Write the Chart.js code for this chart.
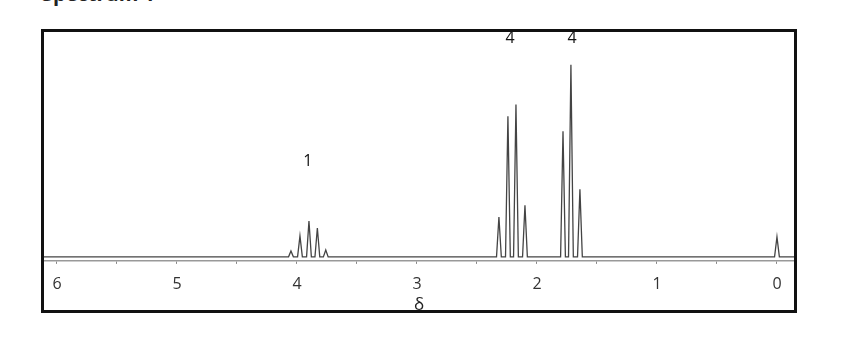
<!DOCTYPE html>
<html>
<head>
<meta charset="utf-8">
<script src="https://cdn.jsdelivr.net/npm/chart.js@4"></script>
<style>
   body { margin: 0; background: #fff; }
   #title {
      position: absolute; left: 42px; top: -20px;
      font: bold 20px "Open Sans", sans-serif; color: #222;
   }
   #box {
      position: absolute; left: 41px; top: 29px;
      width: 750px; height: 278px;
      border: 3px solid #111;
   }
</style>
</head>
<body>
<div id="title">Spectrum 1</div>
<div id="box"><canvas id="nmrChart"></canvas></div>
<script>
/*******************************************************
 * /                 Spectrum 1 peak list              * /
 ********************************************************/
// chemical shift (ppm) and relative height (tallest = 100)
const peakShift = [4.05, 3.975, 3.90, 3.83, 3.76,
                   2.317, 2.242, 2.175, 2.10,
                   1.783, 1.717, 1.642,
                   0.0];
const peakHeight = [3.1, 10.9, 18.7, 15.0, 3.6,
                    20.7, 73.1, 79.3, 26.9,
                    65.3, 100, 35.2,
                    10.4];

// integration labels over the multiplets
const integralText = ["1", "4", "4"];
const integralShift = [3.91, 2.225, 1.708];

const shiftMin = -0.142;
const shiftMax = 6.108;

/*******************************************************
 * /          Build the trace from the peak list       * /
 ********************************************************/
const halfWidth = 0.02;
let trace = [{ x: shiftMin, y: 0 }];
let order = peakShift.map(function (s, i) { return i; })
   .sort(function (a, b) { return peakShift[a] - peakShift[b]; });
for (i = 0; i < order.length; i++) {
   let s = peakShift[order[i]];
   trace.push({ x: s - halfWidth, y: 0 });
   trace.push({ x: s, y: peakHeight[order[i]] });
   trace.push({ x: s + halfWidth, y: 0 });
}
trace.push({ x: shiftMax, y: 0 });

// draws the "1", "4", "4" above the multiplets
const integralLabels = {
   id: "integralLabels",
   afterDatasetsDraw(chart, args, opts) {
      const ctx = chart.ctx;
      ctx.save();
      ctx.font = '16px "Open Sans", sans-serif';
      ctx.fillStyle = "#111";
      ctx.textAlign = "center";
      ctx.textBaseline = "middle";
      for (i = 0; i < integralText.length; i++) {
         ctx.fillText(integralText[i],
            chart.scales.x.getPixelForValue(integralShift[i]),
            chart.scales.y.getPixelForValue(opts.levels[i]));
      }
      ctx.restore();
   },
};

const nmrctx = document.getElementById("nmrChart").getContext("2d");
const nmrChart = new Chart(nmrctx, {
   type: "line",
   data: {
      datasets: [
         {
            label: "Spectrum 1",
            data: trace,
            borderColor: "#444",
            borderWidth: 1.3,
            pointRadius: 0,
            tension: 0,
         },
      ],
   },
   options: {
      responsive: true,
      maintainAspectRatio: false,
      animation: false,
      layout: { padding: 0 },
      plugins: {
         legend: { display: false },
         tooltip: { enabled: false },
         integralLabels: { levels: [49.8, 113.5, 113.5] },
      },
      scales: {
         x: {
            type: "linear",
            reverse: true,
            min: shiftMin,
            max: shiftMax,
            // spectrum runs right up to the frame on both sides
            afterFit: function (scale) {
               scale.paddingLeft = 0;
               scale.paddingRight = 0;
            },
            border: { display: true, color: "#999", width: 1.5 },
            grid: {
               drawOnChartArea: false,
               drawTicks: true,
               tickLength: 3,
               color: "#888",
            },
            ticks: {
               stepSize: 0.5,
               includeBounds: false,
               autoSkip: false,
               maxRotation: 0,
               padding: 11,
               color: "#333",
               font: { family: "Open Sans", size: 16 },
               callback: function (v) {
                  return Math.abs(v - Math.round(v)) < 1e-6 ? Math.round(v) : "";
               },
            },
            title: {
               display: true,
               text: "δ",
               color: "#222",
               font: { family: "Open Sans", size: 17 },
               padding: { top: -10, bottom: -5.5 },
            },
         },
         y: {
            display: false,
            min: -2.1,
            max: 117,
         },
      },
   },
   plugins: [integralLabels],
});
</script>
</body>
</html>
